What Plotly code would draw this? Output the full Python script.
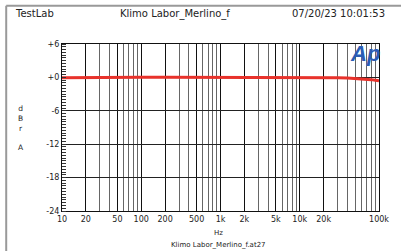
import plotly.graph_objects as go

# data
freq_hz = [10, 15, 20, 30, 50, 100, 200, 500, 1000, 2000, 5000, 10000, 20000, 30000, 40000, 50000, 60000, 70000, 80000, 90000, 100000]
level_dbr = [-0.05, -0.02, 0.0, 0.01, 0.02, 0.03, 0.03, 0.03, 0.03, 0.03, 0.02, 0.0, -0.03, -0.07, -0.12, -0.18, -0.25, -0.32, -0.4, -0.5, -0.6]

x_major = [10, 20, 50, 100, 200, 500, 1000, 2000, 5000, 10000, 20000, 100000]
x_major_text = ["10", "20", "50", "100", "200", "500", "1k", "2k", "5k", "10k", "20k", "100k"]
x_minor = [m * d for d in [10, 100, 1000, 10000] for m in range(1, 10) if m * d not in x_major] + [100000]
y_ticks = [-24, -18, -12, -6, 0, 6]
y_tick_text = ["-24", "-18", "-12", "-6", "+0", "+6"]

FONT = "DejaVu Sans"

fig = go.Figure()
fig.add_trace(go.Scatter(x=freq_hz, y=level_dbr, mode="lines",
                         line=dict(color="#e8322b", width=3), hoverinfo="skip"))

fig.update_layout(
    width=401, height=251,
    margin=dict(l=62, r=19, t=44, b=40),
    paper_bgcolor="white", plot_bgcolor="white",
    showlegend=False,
    font=dict(family=FONT, size=8, color="#222"),
    xaxis=dict(type="log", range=[1, 5], tickvals=x_major, ticktext=x_major_text,
               showgrid=True, gridcolor="#111", gridwidth=1,
               showline=True, linecolor="#111", linewidth=1, mirror=True,
               ticks="", zeroline=False, tickfont=dict(size=8, family=FONT),
               minor=dict(tickvals=x_minor, showgrid=True, gridcolor="#666", gridwidth=1, ticks="")),
    yaxis=dict(range=[-24, 6], tickvals=y_ticks, ticktext=y_tick_text,
               showgrid=True, gridcolor="#222", gridwidth=1,
               showline=True, linecolor="#111", linewidth=1, mirror=True,
               ticks="", zeroline=False, tickfont=dict(size=8, family=FONT),
               minor=dict(dtick=0.5, ticks="inside", ticklen=4, tickcolor="#333", showgrid=False)),
)

ann = [
    dict(text="TestLab", x=-0.153, y=1.18, xanchor="left", size=10),
    dict(text="Klimo Labor_Merlino_f", x=0.356, y=1.18, xanchor="center", size=10),
    dict(text="07/20/23 10:01:53", x=1.025, y=1.18, xanchor="right", size=10),
    dict(text="d<br>B<br>r<br><br>A", x=-0.128, y=0.497, xanchor="center", size=7.5),
    dict(text="Hz", x=0.494, y=-0.132, xanchor="center", size=7),
    dict(text="Klimo Labor_Merlino_f.at27", x=0.494, y=-0.204, xanchor="center", size=7),
]
for a in ann:
    fig.add_annotation(text=a["text"], x=a["x"], y=a["y"], xref="paper", yref="paper",
                       xanchor=a["xanchor"], yanchor="middle", showarrow=False,
                       font=dict(family=FONT, size=a["size"], color="#222"))

fig.add_annotation(text="<b><i>Ap</i></b>", x=0.955, y=0.945, xref="paper", yref="paper",
                   xanchor="center", yanchor="middle", showarrow=False,
                   font=dict(family="Liberation Sans", size=22, color="#2b5cb4"))

# outer frame (left and top)
fig.add_shape(type="line", xref="paper", yref="paper", x0=-0.176, x1=-0.176, y0=1.229, y1=-0.3,
              line=dict(color="#999", width=2))
fig.add_shape(type="line", xref="paper", yref="paper", x0=-0.176, x1=1.1, y0=1.229, y1=1.229,
              line=dict(color="#999", width=2))

fig.write_html("out.html", config={"displayModeBar": False},
               post_script="document.body.style.margin='0';document.body.style.overflow='hidden';")
